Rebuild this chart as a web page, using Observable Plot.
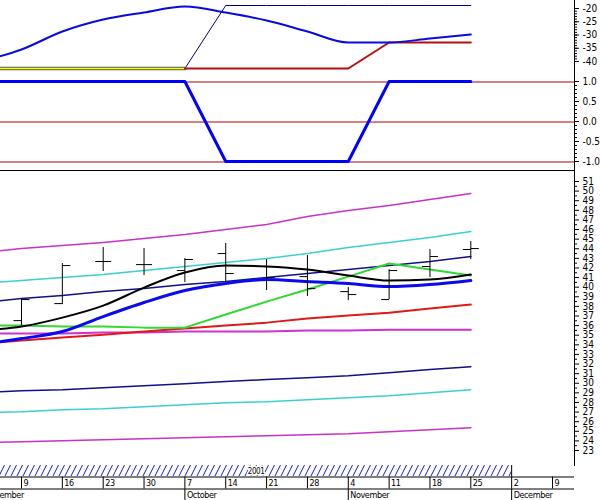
<!DOCTYPE html>
<html><head><meta charset="utf-8">
<script src="https://cdn.jsdelivr.net/npm/d3@7"></script>
<script src="https://cdn.jsdelivr.net/npm/@observablehq/plot@0.6"></script>
<style>
body{margin:0;background:#fff}
#chart{position:relative;width:600px;height:500px;overflow:hidden;background:#fff}
#chart svg{position:absolute;left:0;top:0}
#chart svg.timeaxis text{letter-spacing:-0.4px}
</style></head><body><div id="chart"></div>
<script>
const FONT = "'Liberation Sans Narrow','DejaVu Sans Condensed',sans-serif";

// weekly dates (first one is partly off the left edge)
const weeks = ["2001-09-02","2001-09-09","2001-09-16","2001-09-23","2001-09-30","2001-10-07","2001-10-14","2001-10-21","2001-10-28","2001-11-04","2001-11-11","2001-11-18","2001-11-25"];

// top panel, upper indicator (scale -20 .. -40)
const indCurve  = [-40.0,-35.47,-28.68,-24.15,-21.51,-19.25,-21.51,-24.53,-28.68,-32.83,-32.83,-31.32,-29.81];
const indStep   = [-42.64,-42.64,-42.64,-42.64,-42.64,-42.64,-18.87,-18.87,-18.87,-18.87,-18.87,-18.87,-18.87];
const indYellow = [-42.64,-42.64,-42.64,-42.64,-42.64,-42.64,null,null,null,null,null,null,null];
const indRed    = [null,null,null,null,null,-42.64,-42.64,-42.64,-42.64,-42.64,-32.83,-32.83,-32.83];
const indTicks  = [-20,-25,-30,-35,-40];

// top panel, oscillator (-1 .. 1)
const osc       = [1,1,1,1,1,1,-1,-1,-1,-1,1,1,1];
const oscLevels = [1,0,-1];
const oscTicks  = [1,0.5,0,-0.5,-1];

// price panel lines
const upMagenta  = [43.60,44.02,44.33,44.65,45.06,45.48,46.00,46.52,47.35,47.98,48.50,49.13,49.75];
const upCyan     = [40.38,40.69,41.00,41.31,41.73,42.15,42.56,42.98,43.50,44.13,44.65,45.17,45.79];
const upNavy     = [38.40,38.81,39.13,39.54,39.85,40.27,40.58,41.00,41.42,41.83,42.25,42.67,43.19];
const blackLine  = [35.48,35.90,36.83,38.08,39.96,41.52,42.25,42.15,41.83,41.21,40.69,40.79,41.31];
const blueLine   = [34.02,34.65,35.38,36.94,38.40,39.65,40.38,40.79,40.58,40.38,40.06,40.27,40.69];
const greenLine  = [36.00,36.00,35.90,35.90,35.79,35.79,37.15,38.50,39.75,41.10,42.46,41.83,41.21];
const redLine    = [34.13,34.44,34.75,35.06,35.38,35.69,36.00,36.31,36.73,37.04,37.35,37.77,38.19];
const midMagenta = [35.17,35.17,35.17,35.27,35.27,35.38,35.38,35.38,35.48,35.48,35.58,35.58,35.58];
const loNavy     = [29.02,29.23,29.33,29.54,29.75,29.96,30.17,30.38,30.58,30.79,31.10,31.42,31.73];
const loCyan     = [26.94,27.04,27.25,27.35,27.56,27.77,27.98,28.08,28.29,28.50,28.71,29.02,29.33];
const loMagenta  = [23.81,23.92,24.02,24.13,24.23,24.33,24.44,24.54,24.65,24.75,24.96,25.17,25.38];

// weekly price bars (Sep 9 .. Nov 25)
const barDates = ["2001-09-09","2001-09-16","2001-09-23","2001-09-30","2001-10-07","2001-10-14","2001-10-21","2001-10-28","2001-11-04","2001-11-11","2001-11-18","2001-11-25"];
const barOpen  = [36.52,38.29,42.67,42.35,41.73,43.50,42.15,41.10,39.54,38.71,42.15,43.92];
const barHigh  = [38.81,42.46,44.13,44.02,42.98,44.54,42.88,43.29,39.96,41.83,43.92,44.75];
const barLow   = [36.00,38.19,41.63,41.21,40.48,40.48,39.65,39.02,38.60,38.71,41.00,42.88];
const barClose = [38.71,42.25,42.67,42.35,42.88,41.42,41.00,39.85,39.23,41.73,43.19,44.02];
const priceTicks = [23,24,25,26,27,28,29,30,31,32,33,34,35,36,37,38,39,40,41,42,43,44,45,46,47,48,49,50,51];

// time axis
const tickDates  = ["2001-09-09","2001-09-16","2001-09-23","2001-09-30","2001-10-07","2001-10-14","2001-10-21","2001-10-28","2001-11-04","2001-11-11","2001-11-18","2001-11-25","2001-12-02","2001-12-09"];
const monthDates = ["2001-09-02","2001-10-07","2001-11-04","2001-12-02"];
const monthNames = ["September","October","November","December"];
const yearLabel  = "2001";
const yearEnd    = "2001-12-02";

// ---------------------------------------------------------------
const dates = weeks.map(d => new Date(d));
const tbl = vals => dates.map((date, i) => ({date, value: vals[i]})).filter(d => d.value != null);
const X = {type: "utc", domain: [new Date("2001-09-05T09:36:00Z"), new Date("2001-12-12T18:30:00Z")], range: [0, 574], axis: null};
const chart = document.getElementById("chart");
function overlay(o, fontSize = "10px") {
  const svg = Plot.plot(Object.assign({
    width: 600, height: 500, marginLeft: 0, marginRight: 26, x: X,
    style: {background: "transparent", fontFamily: FONT, fontSize, color: "black"}
  }, o));
  chart.append(svg);
  return svg;
}
const L = (vals, o) => Plot.lineY(tbl(vals), Object.assign({x: "date", y: "value", clip: true}, o));

// upper indicator
overlay({
  marginTop: 0, marginBottom: 330,
  y: {domain: [-40, -20], range: [61, 8]},
  marks: [
    L(indStep, {stroke: "#000080", strokeWidth: 1}),
    L(indYellow, {stroke: "#555", strokeWidth: 3.5}),
    L(indYellow, {stroke: "#ffff00", strokeWidth: 1.6}),
    L(indRed, {stroke: "#b01010", strokeWidth: 2}),
    L(indCurve, {stroke: "#0a0ae0", strokeWidth: 2, curve: "monotone-x"}),
    Plot.axisY({anchor: "right", ticks: indTicks, tickSize: 4, tickPadding: 4, tickFormat: d => String(d), label: null}),
    Plot.axisY({anchor: "right", ticks: d3.range(-40, -19, 1), tickSize: 2, tickFormat: () => "", label: null})
  ]
});

// oscillator
overlay({
  marginTop: 0, marginBottom: 330,
  y: {domain: [-1, 1], range: [161, 81]},
  marks: [
    Plot.ruleY(oscLevels, {stroke: "#b00000", strokeWidth: 1, dy: 0.5}),
    L(osc, {stroke: "#0000ff", strokeWidth: 3}),
    Plot.axisY({anchor: "right", ticks: oscTicks, tickSize: 4, tickPadding: 4, tickFormat: d => d.toFixed(1), label: null}),
    Plot.axisY({anchor: "right", ticks: d3.range(-10, 11).map(i => i / 10), tickSize: 2, tickFormat: () => "", label: null}),
    Plot.frame({anchor: "bottom", stroke: "black"})
  ]
});

// price panel
const bars = barDates.map((d, i) => ({date: new Date(d), open: barOpen[i], high: barHigh[i], low: barLow[i], close: barClose[i]}));
const leftTick  = {draw(ctx) { ctx.moveTo(-8, 0); ctx.lineTo(0, 0); }};
const rightTick = {draw(ctx) { ctx.moveTo(0, 0); ctx.lineTo(8, 0); }};
overlay({
  marginTop: 170, marginBottom: 35,
  y: {domain: [23, 51], range: [450, 181]},
  marks: [
    L(upMagenta, {stroke: "#c832c8", strokeWidth: 1.5}),
    L(upCyan, {stroke: "#38d0d0", strokeWidth: 1.5}),
    L(upNavy, {stroke: "#10108a", strokeWidth: 1.5}),
    L(loNavy, {stroke: "#10108a", strokeWidth: 1.5}),
    L(loCyan, {stroke: "#38d0d0", strokeWidth: 1.5}),
    L(loMagenta, {stroke: "#c832c8", strokeWidth: 1.5}),
    L(midMagenta, {stroke: "#d030d0", strokeWidth: 2}),
    L(redLine, {stroke: "#e01818", strokeWidth: 2}),
    L(greenLine, {stroke: "#30d830", strokeWidth: 2}),
    L(blackLine, {stroke: "#000", strokeWidth: 2, curve: "monotone-x"}),
    L(blueLine, {stroke: "#0a0af0", strokeWidth: 3, curve: "monotone-x"}),
    Plot.ruleX(bars, {x: "date", y1: "low", y2: "high", stroke: "black", strokeWidth: 1}),
    Plot.dot(bars, {x: "date", y: "open", symbol: leftTick, stroke: "black", fill: "none", strokeWidth: 1}),
    Plot.dot(bars, {x: "date", y: "close", symbol: rightTick, stroke: "black", fill: "none", strokeWidth: 1}),
    Plot.axisY({anchor: "right", ticks: priceTicks, tickSize: 4, tickPadding: 4, tickFormat: d => String(d), label: null}),
    Plot.axisY({anchor: "right", ticks: d3.range(23.5, 51, 1), tickSize: 2, tickFormat: () => "", label: null})
  ]
});

// right axis line + time axis strip
const tDates = tickDates.map(d => new Date(d));
const mDates = monthDates.map(d => new Date(d));
const yEnd = new Date(yearEnd);
const yMid = new Date((X.domain[0].getTime() + yEnd.getTime()) / 2);
const axisSvg = overlay({
  marginTop: 0, marginBottom: 35,
  y: {domain: [0, 36], range: [465, 501], axis: null},
  marks: [
    Plot.frame({anchor: "right", stroke: "black"}),
    Plot.rect([{x1: X.domain[0], x2: yEnd}], {x1: "x1", x2: "x2", y1: 0, y2: 11, fill: "url(#hatch)"}),
    Plot.ruleX([yEnd], {y1: 0, y2: 11.5, stroke: "black"}),
    Plot.text([yearLabel], {x: yMid, y: 5.5, text: d => d, textAnchor: "middle", fill: "black", stroke: "white", strokeWidth: 3, fontSize: 8}),
    Plot.ruleY([11.5, 23.5], {stroke: "black"}),
    Plot.ruleX(tDates, {y1: 11.5, y2: 23.5, stroke: "black"}),
    Plot.text(tDates, {x: d => d, y: 17.5, text: d => String(d.getUTCDate()), dx: 2, textAnchor: "start", fill: "black"}),
    Plot.ruleX(mDates, {y1: 23.5, y2: 36, stroke: "black"}),
    Plot.text(mDates, {x: d => d, y: 30, text: (d, i) => monthNames[i], dx: 2, textAnchor: "start", fill: "black"})
  ]
}, "9px");
axisSvg.classList.add("timeaxis");
const defs = d3.select(axisSvg).insert("defs", ":first-child");
const pat = defs.append("pattern").attr("id", "hatch").attr("patternUnits", "userSpaceOnUse").attr("width", 6).attr("height", 12);
pat.append("rect").attr("width", 6).attr("height", 12).attr("fill", "white");
pat.append("path").attr("d", "M-3,12L3,0M3,12L9,0").attr("stroke", "#1a1ad0").attr("stroke-width", 1);
</script></body></html>
